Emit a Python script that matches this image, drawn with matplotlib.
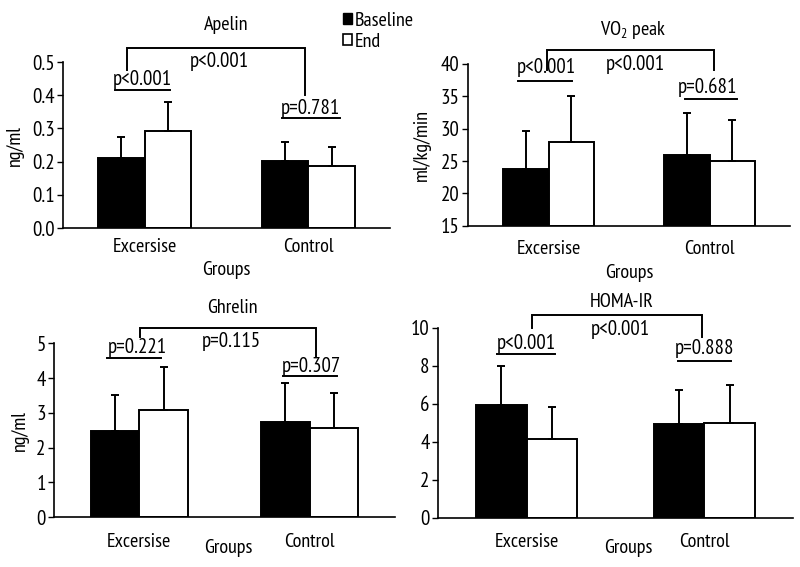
import matplotlib
matplotlib.use("Agg")
import matplotlib.pyplot as plt
from matplotlib.patches import Patch
from matplotlib import font_manager as fm
import numpy as np

names = {f.name for f in fm.fontManager.ttflist}
cands = ['Myriad Pro', 'PT Sans Narrow', 'Fira Sans Condensed', 'Roboto Condensed',
         'Encode Sans Condensed', 'IBM Plex Sans Condensed', 'Liberation Sans Narrow', 'Roboto']
main = next(c for c in cands if c in names)
FAM = [main, 'DejaVu Sans']
plt.rcParams['font.family'] = FAM
plt.rcParams['mathtext.fontset'] = 'custom'
plt.rcParams['mathtext.rm'] = main

groups = ["Excersise", "Control"]
series = ["Baseline", "End"]

apelin_base = [0.21, 0.202]
apelin_end = [0.292, 0.188]
apelin_base_sd = [0.063, 0.058]
apelin_end_sd = [0.087, 0.056]

vo2_base = [23.7, 25.9]
vo2_end = [28.0, 25.05]
vo2_base_sd = [5.9, 6.5]
vo2_end_sd = [7.05, 6.25]

ghrelin_base = [2.49, 2.75]
ghrelin_end = [3.08, 2.56]
ghrelin_base_sd = [1.02, 1.10]
ghrelin_end_sd = [1.25, 1.02]

homa_base = [5.92, 4.93]
homa_end = [4.16, 4.97]
homa_base_sd = [2.06, 1.79]
homa_end_sd = [1.68, 2.01]

p_between = ["p<0.001", "p<0.001", "p=0.115", "p<0.001"]
p_exc = ["p<0.001", "p<0.001", "p=0.221", "p<0.001"]
p_ctl = ["p=0.781", "p=0.681", "p=0.307", "p=0.888"]

W, H = 800, 567
fig = plt.figure(figsize=(8, 5.67), dpi=100)

def add_ax(x0, x1, ytop, ybot):
    return fig.add_axes([x0 / W, (H - ybot) / H, (x1 - x0) / W, (ybot - ytop) / H])

panels = [
    dict(box=(63, 390, 62, 228), ylim=(0, 0.5), ticks=np.arange(0, 0.51, 0.1), fmt="{:.1f}",
         base=apelin_base, end=apelin_end, bsd=apelin_base_sd, esd=apelin_end_sd,
         title="Apelin", title_xy=(0.50, 1.223), ylabel="ng/ml", ylabel_x=15,
         big=dict(x0=-0.11, x1=0.98, ytop=0.543, yl=0.476, yr=0.40, tx=0.454, ty=0.503),
         sm1=dict(tx=-0.012, ty=0.446, x0=-0.184, x1=0.153, y=0.416),
         sm2=dict(tx=1.012, ty=0.361, x0=0.84, x1=1.196, y=0.331),
         tickpad=9, groups_dy=42),
    dict(box=(468, 790, 64, 225.7), ylim=(15, 40), ticks=np.arange(15, 41, 5), fmt="{:.0f}",
         base=vo2_base, end=vo2_end, bsd=vo2_base_sd, esd=vo2_end_sd,
         title="VO$_{\\mathregular{2}}$ peak", title_xy=(0.512, 1.21), ylabel="ml/kg/min", ylabel_x=422,
         big=dict(x0=-0.012, x1=1.03, ytop=42.16, yl=39.07, yr=39.07, tx=0.54, ty=39.85),
         sm1=dict(tx=-0.012, ty=39.4, x0=-0.19, x1=0.147, y=37.37),
         sm2=dict(tx=0.988, ty=36.44, x0=0.847, x1=1.172, y=34.59),
         tickpad=12, groups_dy=47),
    dict(box=(54, 395, 343.3, 517.3), ylim=(0, 5), ticks=np.arange(0, 6, 1), fmt="{:.0f}",
         base=ghrelin_base, end=ghrelin_end, bsd=ghrelin_base_sd, esd=ghrelin_end_sd,
         title="Ghrelin", title_xy=(0.522, 1.203), ylabel="ng/ml", ylabel_x=20,
         big=dict(x0=0.006, x1=1.036, ytop=5.45, yl=5.19, yr=4.61, tx=0.538, ty=5.05),
         sm1=dict(tx=-0.012, ty=4.87, x0=-0.189, x1=0.13, y=4.58),
         sm2=dict(tx=1.012, ty=4.32, x0=0.846, x1=1.16, y=4.07),
         tickpad=13, groups_dy=31, groups_x=0.51),
    dict(box=(438, 793, 327.7, 517.7), ylim=(0, 10), ticks=np.arange(0, 11, 2), fmt="{:.0f}",
         base=homa_base, end=homa_end, bsd=homa_base_sd, esd=homa_end_sd,
         title="HOMA-IR", title_xy=(0.518, 1.135), ylabel=None, ylabel_x=None,
         big=dict(x0=0.028, x1=0.989, ytop=10.67, yl=9.98, yr=9.51, tx=0.528, ty=9.93),
         sm1=dict(tx=0.0, ty=9.19, x0=-0.165, x1=0.159, y=8.62),
         sm2=dict(tx=1.0, ty=8.93, x0=0.852, x1=1.153, y=8.25),
         tickpad=13, groups_dy=30, groups_x=0.535),
]

FS = 14.5
LW = 1.4
bw = 0.285
x = np.arange(len(groups))

for i, p in enumerate(panels):
    ax = add_ax(*p['box'])
    lo = p['ylim'][0]
    b = np.array(p['base']); e = np.array(p['end'])
    ax.bar(x - bw / 2, b - lo, bw, bottom=lo, color='black', edgecolor='black', linewidth=LW, zorder=2)
    ax.bar(x + bw / 2, e - lo, bw, bottom=lo, color='white', edgecolor='black', linewidth=LW, zorder=2)
    ax.errorbar(x - bw / 2, b, yerr=[np.zeros(2), p['bsd']], fmt='none', ecolor='black',
                elinewidth=LW, capsize=3, capthick=LW, zorder=1)
    ax.errorbar(x + bw / 2, e, yerr=[np.zeros(2), p['esd']], fmt='none', ecolor='black',
                elinewidth=LW, capsize=3, capthick=LW, zorder=3)
    ax.set_xlim(-0.5, 1.5)
    ax.set_ylim(*p['ylim'])
    ax.set_yticks(p['ticks'])
    ax.set_yticklabels([p['fmt'].format(t) for t in p['ticks']], fontsize=FS + 0.5)
    ax.set_xticks(x)
    ax.set_xticklabels(groups, fontsize=FS)
    ax.tick_params(axis='x', length=0, pad=p['tickpad'] - 2)
    ax.tick_params(axis='y', length=4, width=1, direction='out', pad=2)
    for s in ['top', 'right']:
        ax.spines[s].set_visible(False)
    for s in ['left', 'bottom']:
        ax.spines[s].set_linewidth(1.2)
    ax.text(p['title_xy'][0], p['title_xy'][1], p['title'], transform=ax.transAxes,
            ha='center', va='center', fontsize=FS)
    gx = p.get('groups_x', 0.5)
    ax.annotate("Groups", xy=(gx, 0), xycoords='axes fraction', xytext=(0, -p['groups_dy'] * 0.72),
                textcoords='offset points', ha='center', va='center', fontsize=FS)
    if p['ylabel']:
        x0 = p['box'][0]
        ax.annotate(p['ylabel'], xy=(0, 0.5), xycoords='axes fraction',
                    xytext=(-(x0 - p['ylabel_x']) * 0.72, 0), textcoords='offset points',
                    ha='center', va='center', rotation=90, fontsize=FS)
    bg = p['big']
    ax.plot([bg['x0'], bg['x0'], bg['x1'], bg['x1']], [bg['yl'], bg['ytop'], bg['ytop'], bg['yr']],
            color='black', lw=LW, clip_on=False, solid_joinstyle='miter')
    ax.text(bg['tx'], bg['ty'], p_between[i], ha='center', va='center', fontsize=FS + 0.5, clip_on=False)
    for sm, lab in ((p['sm1'], p_exc[i]), (p['sm2'], p_ctl[i])):
        ax.plot([sm['x0'], sm['x1']], [sm['y'], sm['y']], color='black', lw=LW, clip_on=False)
        ax.text(sm['tx'], sm['ty'], lab, ha='center', va='center', fontsize=FS + 0.5, clip_on=False)

handles = [Patch(facecolor='black', edgecolor='black', linewidth=1),
           Patch(facecolor='white', edgecolor='black', linewidth=1.2)]
fig.legend(handles, series, loc='upper left', bbox_to_anchor=(343 / W, 1 - 12 / H),
           frameon=False, fontsize=FS, handlelength=0.45, handleheight=0.45,
           handletextpad=0.12, labelspacing=0.15, borderpad=0, borderaxespad=0)

fig.savefig("out.png", dpi=100)
